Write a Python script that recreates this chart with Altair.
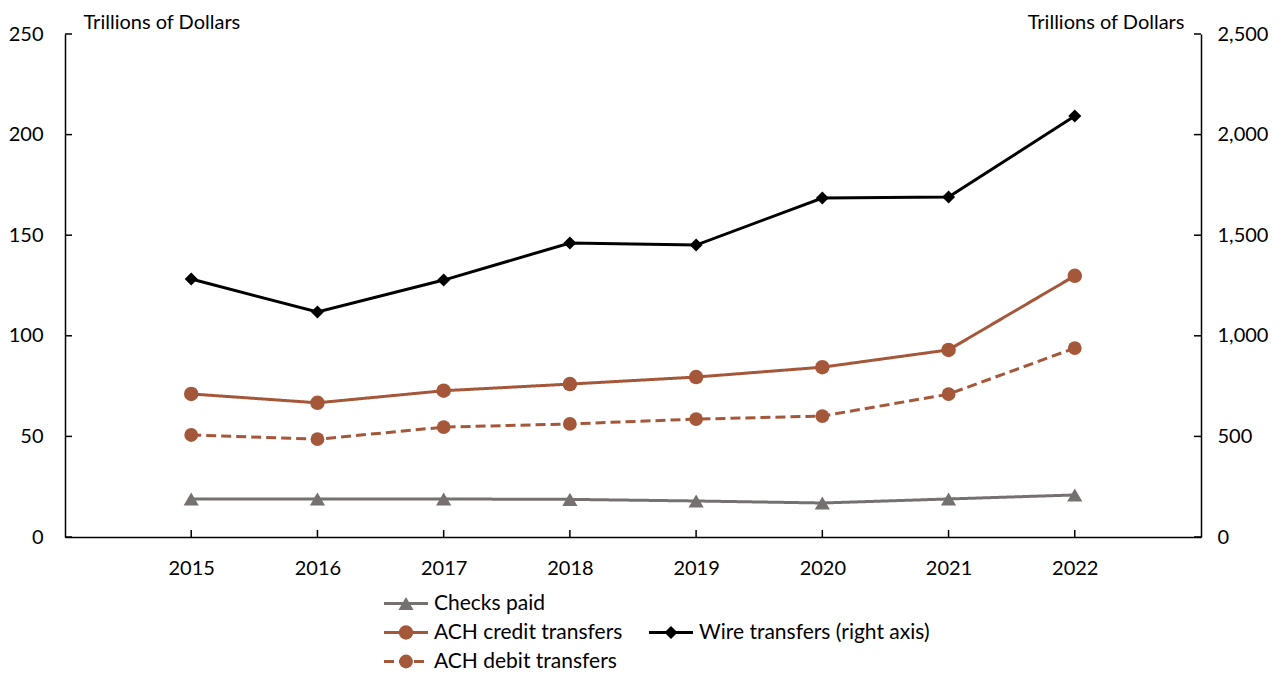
import altair as alt
import pandas as pd

years = ["2015", "2016", "2017", "2018", "2019", "2020", "2021", "2022"]
checks_paid = [18.9, 18.9, 18.9, 18.7, 17.9, 16.9, 18.9, 20.9]
ach_credit = [71.1, 66.7, 72.7, 76.0, 79.5, 84.4, 93.0, 129.8]
ach_debit = [50.7, 48.6, 54.6, 56.2, 58.6, 60.1, 71.0, 93.9]
wire_transfers = [1282, 1118, 1277, 1461, 1451, 1685, 1690, 2092]

left_ticks = [0, 50, 100, 150, 200, 250]
right_ticks = [0, 500, 1000, 1500, 2000, 2500]
axis_title = "Trillions of Dollars"

series_names = ["Checks paid", "ACH credit transfers", "ACH debit transfers",
                "Wire transfers (right axis)"]
series_colors = ["#767171", "#A5573A", "#A5573A", "#000000"]
series_shapes = ["triangle-up", "circle", "circle", "diamond"]
series_dash = [[1, 0], [1, 0], [10, 5], [1, 0]]
series_width = [3, 3, 3, 3.5]
legend_col = [0, 0, 0, 1]
legend_row = [0, 1, 2, 1]

W, H = 1136, 503
FONT = "Lato"
FS = 20

left_df = pd.DataFrame({
    "year": years * 3,
    "value": checks_paid + ach_credit + ach_debit,
    "series": [n for n in series_names[:3] for _ in years],
})
wire_df = pd.DataFrame({"year": years, "value": wire_transfers,
                        "series": series_names[3]})

color = alt.Color("series:N", scale=alt.Scale(domain=series_names, range=series_colors), legend=None)
shape = alt.Shape("series:N", scale=alt.Scale(domain=series_names, range=series_shapes), legend=None)
dash = alt.StrokeDash("series:N", scale=alt.Scale(domain=series_names, range=series_dash), legend=None)
swidth = alt.StrokeWidth("series:N", scale=alt.Scale(domain=series_names, range=series_width), legend=None)
size_main = alt.Size("series:N", scale=alt.Scale(domain=series_names, range=[230, 170, 170, 220]), legend=None)
size_leg = alt.Size("series:N", scale=alt.Scale(domain=series_names, range=[100, 150, 150, 90]), legend=None)

x_enc = alt.X("year:O", scale=alt.Scale(type="point", padding=1),
              axis=alt.Axis(title=None, labelAngle=0, ticks=False, labelPadding=21,
                            domainColor="black", domainWidth=1.5))

left_scale = alt.Scale(domain=[0, 250], nice=False)
right_scale = alt.Scale(domain=[0, 2500], nice=False)
left_axis = alt.Axis(title=axis_title, values=left_ticks, ticks=False, grid=False,
                     labelPadding=22, domainColor="black", domainWidth=1.5,
                     titleAngle=0, titleX=18, titleY=-6, titleAlign="left",
                     titleBaseline="alphabetic")
right_axis = alt.Axis(title=axis_title, orient="right", values=right_ticks,
                      labelExpr="format(datum.value, ',')",
                      ticks=False, grid=False, labelPadding=16, domainColor="black",
                      domainWidth=1.5, titleAngle=0, titleX=-17, titleY=-6,
                      titleAlign="right", titleBaseline="alphabetic")

y_left = alt.Y("value:Q", scale=left_scale, axis=left_axis)
y_right = alt.Y("value:Q", scale=right_scale, axis=right_axis)

left_lines = alt.Chart(left_df).mark_line().encode(
    x=x_enc, y=y_left, color=color, strokeDash=dash, strokeWidth=swidth)
left_points = alt.Chart(left_df).mark_point(filled=True, opacity=1).encode(
    x=x_enc, y=y_left, color=color, shape=shape, size=size_main)
left_tick_marks = alt.Chart(pd.DataFrame({"value": left_ticks})).mark_rule(
    color="black", strokeWidth=1.5).encode(y=y_left, x=alt.value(0), x2=alt.value(7))
x_tick_marks = alt.Chart(pd.DataFrame({"year": years})).mark_rule(
    color="black", strokeWidth=1.5).encode(x=x_enc, y=alt.value(H - 7), y2=alt.value(H))

wire_line = alt.Chart(wire_df).mark_line().encode(
    x=x_enc, y=y_right, color=color, strokeWidth=swidth)
wire_points = alt.Chart(wire_df).mark_point(filled=True, opacity=1).encode(
    x=x_enc, y=y_right, color=color, shape=shape, size=size_main)
right_tick_marks = alt.Chart(pd.DataFrame({"value": right_ticks})).mark_rule(
    color="black", strokeWidth=1.5).encode(y=y_right, x=alt.value(W - 7), x2=alt.value(W))

left_layer = alt.layer(left_tick_marks, x_tick_marks, left_lines, left_points)
right_layer = alt.layer(right_tick_marks, wire_line, wire_points)

main = alt.layer(left_layer, right_layer).resolve_scale(y="independent").properties(
    width=W, height=H)

leg_df = pd.DataFrame({"series": series_names, "col": legend_col, "row": legend_row})
lx = alt.X("col:Q", scale=alt.Scale(domain=[0, 1], range=[341, 606]), axis=None)
ly = alt.Y("row:Q", scale=alt.Scale(domain=[0, 2], range=[25.5, 83.5]), axis=None)

leg_lines = alt.Chart(leg_df).mark_rule(xOffset=-22, x2Offset=22).encode(
    x=lx, x2="col:Q", y=ly, color=color, strokeDash=dash, strokeWidth=swidth)
leg_points = alt.Chart(leg_df).mark_point(filled=True, opacity=1).encode(
    x=lx, y=ly, color=color, shape=shape, size=size_leg)
leg_text = alt.Chart(leg_df).mark_text(align="left", baseline="middle", dx=28,
                                       fontSize=21, font=FONT, color="black").encode(
    x=lx, y=ly, text="series:N")
legend = alt.layer(leg_lines, leg_points, leg_text).properties(width=900, height=70)

chart = alt.vconcat(main, legend, spacing=0).properties(
    padding={"left": 0, "top": 4, "right": 0, "bottom": 0}
).configure_view(stroke=None).configure_axis(
    labelFont=FONT, labelFontSize=FS, labelColor="black",
    titleFont=FONT, titleFontSize=20, titleFontWeight="normal", titleColor="black"
)

chart.save("out.html", embed_options={"renderer": "svg", "actions": False})
